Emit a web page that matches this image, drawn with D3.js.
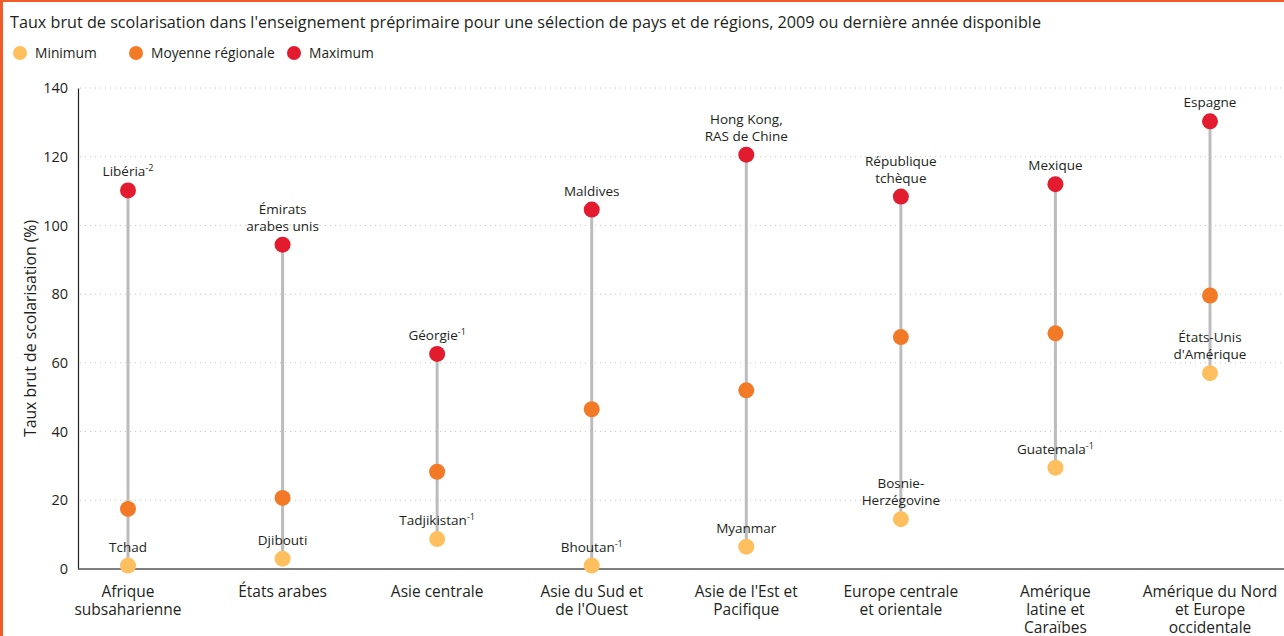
<!DOCTYPE html>
<html>
<head>
<meta charset="utf-8">
<script src="https://cdn.jsdelivr.net/npm/d3@7"></script>
<style>
  body { margin: 0; background: #fff; }
  svg { display: block; font-family: "Open Sans", sans-serif; }
</style>
</head>
<body>
<div id="chart"></div>
<script>
// regions (x axis), lines split with \n
const regions = [
    "Afrique\nsubsaharienne", "États arabes", "Asie centrale", "Asie du Sud et\nde l'Ouest",
    "Asie de l'Est et\nPacifique", "Europe centrale\net orientale", "Amérique\nlatine et\nCaraïbes",
    "Amérique du Nord\net Europe\noccidentale"
];
const minValues = [1, 3, 8.7, 1, 6.5, 14.5, 29.5, 57];
const meanValues = [17.5, 20.7, 28.3, 46.5, 52, 67.5, 68.6, 79.6];
const maxValues = [110.2, 94.4, 62.6, 104.6, 120.6, 108.4, 112, 130.3];
// country labels: [text, superscript]
const minLabels = [["Tchad", ""], ["Djibouti", ""], ["Tadjikistan", "-1"], ["Bhoutan", "-1"],
    ["Myanmar", ""], ["Bosnie-\nHerzégovine", ""], ["Guatemala", "-1"], ["États-Unis\nd'Amérique", ""]];
const maxLabels = [["Libéria", "-2"], ["Émirats\narabes unis", ""], ["Géorgie", "-1"], ["Maldives", ""],
    ["Hong Kong,\nRAS de Chine", ""], ["République\ntchèque", ""], ["Mexique", ""], ["Espagne", ""]];
const yTicks = [0, 20, 40, 60, 80, 100, 120, 140];
const legendItems = ["Minimum", "Moyenne régionale", "Maximum"];

const colors = { min: "#fec05f", mean: "#f27a26", max: "#e31b2f" };

const width = 1284, height = 636;
const margin = { top: 88, right: 0, bottom: 67, left: 78 };

const svg = d3.select("#chart").append("svg")
    .attr("width", width)
    .attr("height", height);

// orange frame on the left and top
svg.append("rect").attr("x", 0).attr("y", 0).attr("width", 3).attr("height", height).attr("fill", "#f15a29");
svg.append("rect").attr("x", 0).attr("y", 0).attr("width", width).attr("height", 2).attr("fill", "#f15a29");

svg.append("text")
    .attr("x", 10).attr("y", 28)
    .attr("font-size", 16.2)
    .attr("fill", "#231f20")
    .text("Taux brut de scolarisation dans l'enseignement préprimaire pour une sélection de pays et de régions, 2009 ou dernière année disponible");

// legend
const legendX = [20, 136, 294];
const legend = svg.append("g").selectAll("g")
    .data(legendItems)
    .join("g")
    .attr("transform", (d, i) => `translate(${legendX[i]},53)`);
legend.append("circle").attr("r", 7).attr("fill", (d, i) => [colors.min, colors.mean, colors.max][i]);
legend.append("text").attr("x", 15).attr("dy", "0.35em").attr("font-size", 13.8).attr("fill", "#231f20").text(d => d);

const x = d3.scalePoint().domain(regions).range([128, 1210]);
const y = d3.scaleLinear().domain([0, 140]).range([height - margin.bottom, margin.top]);

// grid
svg.append("g")
    .selectAll("line")
    .data(yTicks.filter(d => d > 0))
    .join("line")
    .attr("x1", margin.left + 2).attr("x2", width)
    .attr("y1", d => y(d)).attr("y2", d => y(d))
    .attr("stroke", "#c4c4c4")
    .attr("stroke-dasharray", "1,4");

// y axis
const yAxis = svg.append("g")
    .attr("transform", `translate(${margin.left},0)`)
    .call(d3.axisLeft(y).tickValues(yTicks).tickSize(0).tickPadding(10));
yAxis.select(".domain").attr("stroke", "#231f20").attr("stroke-width", 1.2);
yAxis.selectAll("text").attr("font-size", 14.5).attr("fill", "#231f20").attr("font-family", "Open Sans, sans-serif");

svg.append("line")
    .attr("x1", margin.left).attr("x2", width)
    .attr("y1", y(0)).attr("y2", y(0))
    .attr("stroke", "#555").attr("stroke-width", 1.5);

svg.append("text")
    .attr("transform", `translate(36,${(y(0) + y(140)) / 2}) rotate(-90)`)
    .attr("text-anchor", "middle")
    .attr("font-size", 15.8)
    .attr("fill", "#231f20")
    .text("Taux brut de scolarisation (%)");

// x labels
svg.append("g")
    .selectAll("text")
    .data(regions)
    .join("text")
    .attr("text-anchor", "middle")
    .attr("font-size", 15.5)
    .attr("fill", "#231f20")
    .each(function(d) {
        const t = d3.select(this);
        d.split("\n").forEach((line, i) => {
            t.append("tspan").attr("x", x(d)).attr("y", y(0) + 28 + i * 18).text(line);
        });
    });

// stems
svg.append("g")
    .selectAll("line")
    .data(regions)
    .join("line")
    .attr("x1", d => x(d)).attr("x2", d => x(d))
    .attr("y1", (d, i) => y(minValues[i]))
    .attr("y2", (d, i) => y(maxValues[i]))
    .attr("stroke", "#bcbcbf")
    .attr("stroke-width", 3);

const series = [
    { values: minValues, color: colors.min, labels: minLabels },
    { values: meanValues, color: colors.mean, labels: null },
    { values: maxValues, color: colors.max, labels: maxLabels }
];

series.forEach(s => {
    svg.append("g")
        .selectAll("circle")
        .data(regions)
        .join("circle")
        .attr("cx", d => x(d))
        .attr("cy", (d, i) => y(s.values[i]))
        .attr("r", 8)
        .attr("fill", s.color);

    if (!s.labels) return;
    svg.append("g")
        .selectAll("text")
        .data(regions)
        .join("text")
        .attr("text-anchor", "middle")
        .attr("font-size", 13.5)
        .attr("fill", "#231f20")
        .each(function(d, i) {
            const t = d3.select(this);
            const [label, sup] = s.labels[i];
            const lines = label.split("\n");
            const base = y(s.values[i]) - 14 - (lines.length - 1) * 17;
            lines.forEach((line, j) => {
                t.append("tspan").attr("x", x(d)).attr("y", base + j * 17).text(line);
            });
            if (sup) {
                t.append("tspan").attr("font-size", 9).attr("dy", -5).text(sup);
            }
        });
});
</script>
</body>
</html>
